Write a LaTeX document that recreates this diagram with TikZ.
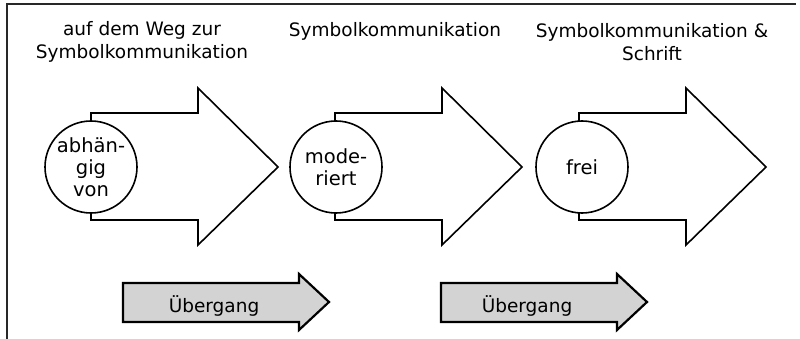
\documentclass[tikz,border=0pt]{standalone}
\usepackage{fontspec}
\setmainfont{DejaVu Sans}
\definecolor{framegray}{RGB}{40,40,40}
\definecolor{stepfill}{RGB}{211,211,211}
\tikzset{
  bigarrow/.style={draw=black, line width=1.6pt, fill=white, line join=miter},
  smallarrow/.style={draw=black, line width=2.2pt, fill=stepfill, line join=miter},
  phase/.style={circle, draw=black, line width=1.6pt, fill=white, minimum size=92pt, inner sep=0pt,
    align=center, font=\fontsize{19.5}{22}\selectfont},
  title/.style={align=center, inner sep=0pt, font=\fontsize{18.5}{23}\selectfont},
  steplabel/.style={inner sep=0pt, anchor=base, font=\fontsize{18.5}{22}\selectfont},
}
\begin{document}
\begin{tikzpicture}[x=1pt,y=-1pt]
  \useasboundingbox (0,0) rectangle (800,339);
  % frame (top and left edges)
  \draw[framegray, line width=1.8pt] (7,339) -- (7,4) -- (796,4);

  % three phase arrows with their circles
  \foreach \cx/\name in {91/p1, 335/p2, 579/p3}{
    \draw[bigarrow] (\cx,113) -- (\cx+107,113) -- (\cx+107,88) -- (\cx+187,167)
      -- (\cx+107,245) -- (\cx+107,220) -- (\cx,220) -- cycle;
  }
  \node[phase] (c1) at (91,167) {abhän-\\gig\\von};
  \node[phase] (c2) at (336,167) {mode-\\riert};
  \node[phase] (c3) at (582,167) {frei};

  % headings
  \node[title] (t1) at (142,42) {auf dem Weg zur\\Symbolkommunikation};
  \node[title, anchor=base] (t2) at (395,37) {Symbolkommunikation};
  \node[title] (t3) at (652,42) {Symbolkommunikation \&\\Schrift};

  % transition arrows
  \foreach \sx in {123, 441}{
    \draw[smallarrow] (\sx,283) -- (\sx+176,283) -- (\sx+176,274) -- (\sx+206,302)
      -- (\sx+176,330) -- (\sx+176,322) -- (\sx,322) -- cycle;
  }
  \node[steplabel] (u1) at (214,312) {Übergang};
  \node[steplabel] (u2) at (527,312) {Übergang};
\end{tikzpicture}
\end{document}
